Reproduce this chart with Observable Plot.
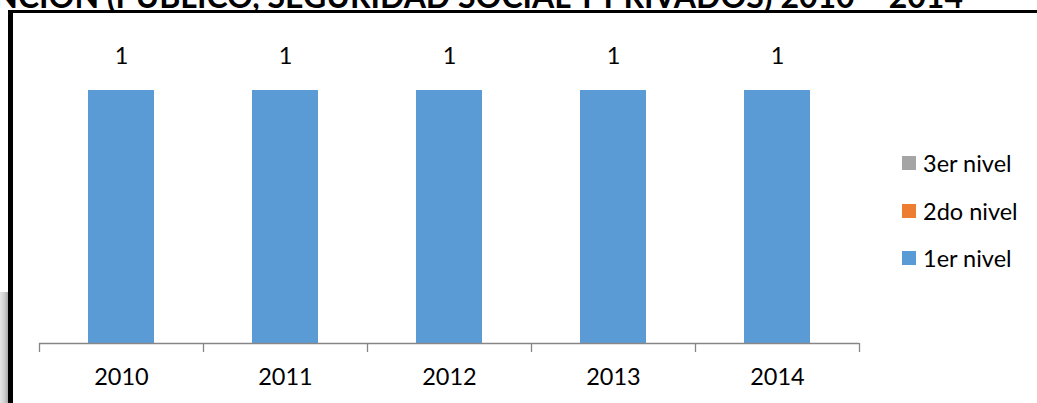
<!DOCTYPE html>
<html>
<head>
<meta charset="utf-8">
<script src="https://cdn.jsdelivr.net/npm/d3@7"></script>
<script src="https://cdn.jsdelivr.net/npm/@observablehq/plot@0.6"></script>
<style>
  html, body { margin: 0; padding: 0; background: #fff; }
  #wrap { position: relative; width: 1037px; height: 403px; overflow: hidden; font-family: Lato, "Open Sans", sans-serif; }
  #title { position: absolute; right: 74px; top: -20px; white-space: nowrap; font-weight: bold; font-size: 32px; line-height: 32px; color: #000; }
  #topline { position: absolute; left: 8px; top: 10px; width: 1029px; height: 2.5px; background: #000; }
  #leftline { position: absolute; left: 8px; top: 11px; width: 5px; height: 392px; background: #000; }
  #shade { position: absolute; left: 0; top: 292px; width: 8px; height: 111px; background: linear-gradient(to right, #e6e6e6, #cfcfcf 55%, #a9a9a9); }
  #chart { position: absolute; left: 0; top: 0; }
  #legend { position: absolute; left: 902px; top: 155px; }
  .item { display: flex; align-items: center; height: 16px; margin-bottom: 31.5px; font-size: 23.5px; color: #000; }
  .sw { width: 14px; height: 14px; margin-right: 7px; }
</style>
</head>
<body>
<div id="wrap">
  <div id="chart"></div>
  <div id="shade"></div>
  <div id="topline"></div>
  <div id="leftline"></div>
  <div id="title">ATENCIÓN (PÚBLICO, SEGURIDAD SOCIAL Y PRIVADOS) 2010 – 2014</div>
  <div id="legend"></div>
</div>
<script>
const years = ["2010", "2011", "2012", "2013", "2014"];
const nivel1 = [1, 1, 1, 1, 1];
const nivel2 = [0, 0, 0, 0, 0];
const nivel3 = [0, 0, 0, 0, 0];
const seriesNames = ["1er nivel", "2do nivel", "3er nivel"];
const seriesColors = ["#5B9BD5", "#ED7D31", "#A5A5A5"];

const seriesValues = [nivel1, nivel2, nivel3];
const data = years.flatMap((y, i) => seriesNames.map((s, k) => ({year: y, serie: s, value: seriesValues[k][i]})));
const totals = years.map((y, i) => ({year: y, total: nivel1[i] + nivel2[i] + nivel3[i]}));

const axisColor = "#868686";
const chart = Plot.plot({
  width: 1037,
  height: 403,
  marginLeft: 39,
  marginRight: 178,
  marginTop: 39.4,
  marginBottom: 60,
  style: {fontFamily: "Lato, 'Open Sans', sans-serif", background: "transparent"},
  x: {domain: years, paddingInner: 0.5976, paddingOuter: 0.2988, label: null},
  y: {domain: [0, 1.2], axis: null},
  color: {domain: seriesNames, range: seriesColors},
  marks: [
    Plot.barY(data, {x: "year", y: "value", fill: "serie", order: seriesNames}),
    Plot.ruleY([0], {stroke: axisColor, strokeWidth: 1.3}),
    Plot.axisX({ticks: years, tickSize: 9, text: null, label: null, dx: -82, stroke: axisColor, strokeWidth: 1.3}),
    Plot.axisX({ticks: [years[years.length - 1]], tickSize: 9, text: null, label: null, dx: 82, stroke: axisColor, strokeWidth: 1.3}),
    Plot.text(years, {x: d => d, y: 0, dy: 34, text: d => d, fontSize: 23.5, fill: "#000"}),
    Plot.text(totals, {x: "year", y: "total", dy: -34, text: d => String(d.total), fontSize: 23.5, fill: "#000"})
  ]
});
document.getElementById("chart").appendChild(chart);

const legend = document.getElementById("legend");
seriesNames.slice().reverse().forEach(name => {
  const item = document.createElement("div");
  item.className = "item";
  const sw = document.createElement("div");
  sw.className = "sw";
  sw.style.background = seriesColors[seriesNames.indexOf(name)];
  const label = document.createElement("span");
  label.textContent = name;
  item.appendChild(sw);
  item.appendChild(label);
  legend.appendChild(item);
});
</script>
</body>
</html>
